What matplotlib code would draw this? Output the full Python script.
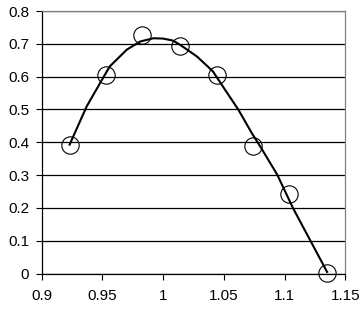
import matplotlib.pyplot as plt

plt.rcParams['font.family'] = ['Liberation Sans', 'DejaVu Sans']

# measured points (circles)
pt_x = [0.923, 0.953, 0.983, 1.014, 1.044, 1.074, 1.104, 1.135]
pt_y = [0.393, 0.605, 0.728, 0.694, 0.604, 0.390, 0.242, 0.003]

# fitted curve
curve_x = [0.923, 0.937, 0.948, 0.956, 0.970, 0.981, 0.992, 1.000, 1.008,
           1.014, 1.028, 1.041, 1.051, 1.062, 1.073, 1.080, 1.094, 1.107,
           1.121, 1.135]
curve_y = [0.393, 0.509, 0.580, 0.631, 0.682, 0.707, 0.717, 0.716, 0.710,
           0.697, 0.661, 0.616, 0.560, 0.499, 0.428, 0.387, 0.301, 0.199,
           0.102, 0.005]

x_ticks = [0.9, 0.95, 1.0, 1.05, 1.1, 1.15]
x_labels = ['0.9', '0.95', '1', '1.05', '1.1', '1.15']
y_ticks = [0, 0.1, 0.2, 0.3, 0.4, 0.5, 0.6, 0.7, 0.8]
y_labels = ['0', '0.1', '0.2', '0.3', '0.4', '0.5', '0.6', '0.7', '0.8']

fig = plt.figure(figsize=(3.6, 3.11), dpi=100)
ax = fig.add_axes([0.1158, 0.1203, 0.8434, 0.8443])

ax.plot(curve_x, curve_y, color='black', linewidth=1.5, zorder=3)
ax.plot(pt_x, pt_y, linestyle='none', marker='o', markersize=12.5,
        markerfacecolor='none', markeredgecolor='black',
        markeredgewidth=0.8, zorder=4, clip_on=False)

ax.set_xlim(0.9, 1.15)
ax.set_ylim(0, 0.8)
ax.set_xticks(x_ticks)
ax.set_xticklabels(x_labels)
ax.set_yticks(y_ticks)
ax.set_yticklabels(y_labels)
ax.tick_params(axis='both', direction='out', length=4, width=0.8,
               labelsize=11, colors='black')
ax.tick_params(axis='x', pad=7)
ax.tick_params(axis='y', pad=5)

ax.yaxis.grid(True, color='black', linewidth=0.9)
ax.set_axisbelow(True)

for side in ['top', 'right']:
    ax.spines[side].set_color('#808080')
    ax.spines[side].set_linewidth(0.9)
for side in ['left', 'bottom']:
    ax.spines[side].set_color('black')
    ax.spines[side].set_linewidth(0.9)

fig.savefig('out.png', dpi=100)
